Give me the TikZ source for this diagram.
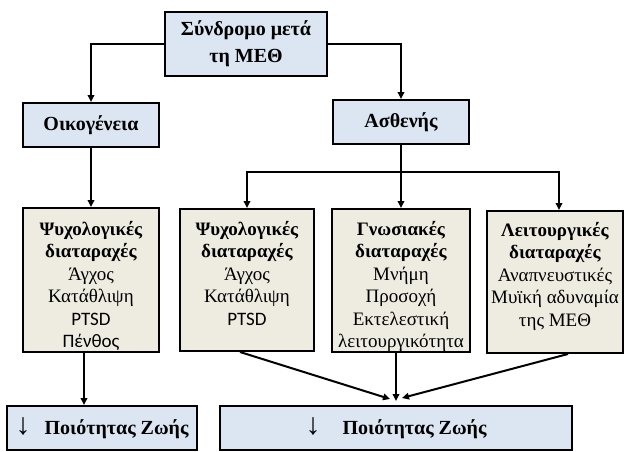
\documentclass[tikz,border=0pt]{standalone}
\usepackage{fontspec}
\setmainfont{Liberation Serif}
\newfontfamily\calib{Carlito}
\usetikzlibrary{arrows.meta}
\definecolor{boxblue}{HTML}{DCE6F2}
\definecolor{boxtan}{HTML}{EEECE1}
\newcommand{\tanlines}[3]{\begin{minipage}[t][#1][t]{#2}\centering\fontsize{19}{22.5}\selectfont #3\end{minipage}}
\newcommand{\darr}{{\fontsize{30}{30}\selectfont\normalfont ↓}}
\begin{document}
\begin{tikzpicture}[x=1pt,y=-1pt,
  bx/.style={draw=black, line width=2pt, inner sep=0pt, align=center},
  bluebox/.style={bx, fill=boxblue, font=\fontsize{20}{27}\selectfont\bfseries},
  tanbox/.style={bx, fill=boxtan, anchor=north},
  ln/.style={line width=2pt},
  arr/.style={ln, -{Triangle[length=7pt,width=6.5pt]}}]
\useasboundingbox (0,0) rectangle (625,451);

% blue boxes
\node[bluebox, minimum width=162pt, minimum height=64pt] (T) at (246,44) {Σύνδρομο μετά\\τη ΜΕΘ};
\node[bluebox, minimum width=136pt, minimum height=44pt] (O) at (91,125) {Οικογένεια};
\node[bluebox, minimum width=136pt, minimum height=44pt] (A) at (401,122) {Ασθενής};

% tan boxes
\node[tanbox] (P1) at (91,207) {\tanlines{144pt}{136pt}{\rule{0pt}{27pt}\textbf{Ψυχολογικές}\\\textbf{διαταραχές}\\Άγχος\\Κατάθλιψη\\{\calib PTSD}\\{\calib Πένθος}}};
\node[tanbox] (P2) at (247,208) {\tanlines{142pt}{134pt}{\rule{0pt}{26pt}\textbf{Ψυχολογικές}\\\textbf{διαταραχές}\\Άγχος\\Κατάθλιψη\\{\calib PTSD}}};
\node[tanbox] (G) at (401,208) {\tanlines{143pt}{138pt}{\rule{0pt}{26pt}\textbf{Γνωσιακές}\\\textbf{διαταραχές}\\Μνήμη\\Προσοχή\\Εκτελεστική\\λειτουργικότητα}};
\node[tanbox] (L) at (555,210) {\tanlines{142pt}{136pt}{\rule{0pt}{25pt}\textbf{Λειτουργικές}\\\textbf{διαταραχές}\\Αναπνευστικές\\Μυϊκή αδυναμία\\της ΜΕΘ}};

% bottom boxes
\node[bluebox, minimum width=190pt, minimum height=44pt] (Q1) at (102,428) {\raisebox{-3pt}{\darr\hspace{14pt}Ποιότητας Ζωής}};
\node[bluebox, minimum width=352pt, minimum height=44pt] (Q2) at (396,428) {\raisebox{-3pt}{\darr\hspace{22pt}Ποιότητας Ζωής}};

% connectors
\draw[arr] (T.west) -| (O.north);
\draw[arr] (T.east) -| (A.north);
\draw[arr] (O.south) -- (P1.north);
\coordinate (hub) at (401,172);
\draw[ln] (A.south) -- (hub);
\draw[arr] (hub) -| (P2.north);
\draw[arr] (hub) -- (G.north);
\draw[arr] (hub) -| ([xshift=4pt]L.north);
\draw[arr] ([xshift=-7pt]P1.south) -- ([xshift=-7pt]P1.south |- Q1.north);
\coordinate (c1) at (390,399);
\coordinate (c2) at (396,401);
\coordinate (c3) at (402,398);
\draw[arr] ([xshift=-7pt]P2.south) -- (c1);
\draw[arr] (G.south -| c2) -- (c2);
\draw[arr] ([xshift=13pt]L.south) -- (c3);
\end{tikzpicture}
\end{document}
